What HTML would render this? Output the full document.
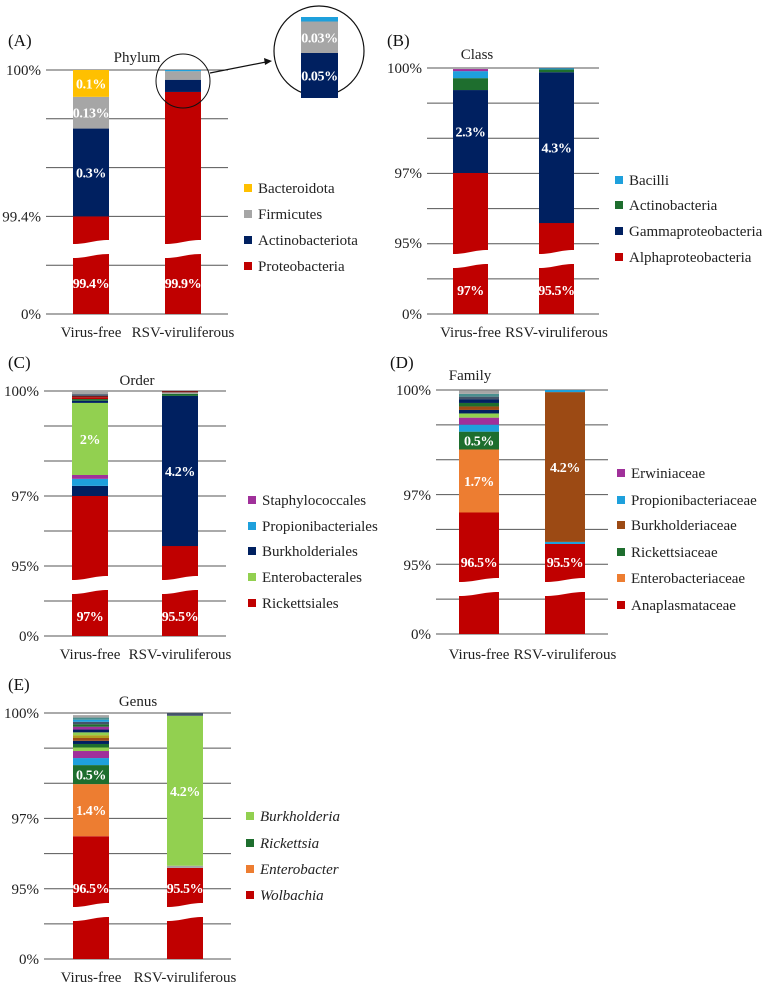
<!DOCTYPE html>
<html><head><meta charset="utf-8">
<style>
html,body{margin:0;padding:0;background:#fff;}
svg{display:block;font-family:"Liberation Serif",serif;}
</style></head>
<body>
<svg id="fig" width="766" height="989" viewBox="0 0 766 989" xmlns="http://www.w3.org/2000/svg"></svg>
<script>
const RED="#c00000",NAVY="#002060",GRAY="#a6a6a6",YEL="#ffc000",LBLUE="#1ea0dc",DGREEN="#1e6e2e",PURP="#a0309a",LGREEN="#92d050",ORANGE="#ed7d31",BROWN="#9c4a14",DRED="#7a1a1a",SLATE="#44546a",TEAL="#4a8f8f",OLIVE="#b0a020";
const categories=["Virus-free","RSV-viruliferous"];
// Panel A — Phylum
const A_vf=[99.4,0.36,0.13,0.11];
const A_vfColors=[RED,NAVY,GRAY,YEL];
const A_vfLabels=["99.4%","0.3%","0.13%","0.1%"];
const A_rsv=[99.91,0.05,0.035,0.005];
const A_rsvColors=[RED,NAVY,GRAY,LBLUE];
const A_rsvLabels=["99.9%","","",""];
const A_tickVals=[99.4,100];
const A_tickLabels=["99.4%","100%"];
const A_legend=["Bacteroidota","Firmicutes","Actinobacteriota","Proteobacteria"];
const A_legendColors=[YEL,GRAY,NAVY,RED];
const A_zoomLabels=["0.05%","0.03%",""];
// Panel B — Class
const B_vf=[97,2.37,0.34,0.2,0.06];
const B_vfColors=[RED,NAVY,DGREEN,LBLUE,PURP];
const B_vfLabels=["97%","2.3%","","",""];
const B_rsv=[95.57,4.31,0.08,0.03];
const B_rsvColors=[RED,NAVY,DGREEN,LBLUE];
const B_rsvLabels=["95.5%","4.3%","",""];
const B_tickVals=[95,97,100];
const B_tickLabels=["95%","97%","100%"];
const B_legend=["Bacilli","Actinobacteria","Gammaproteobacteria","Alphaproteobacteria"];
const B_legendColors=[LBLUE,DGREEN,NAVY,RED];
// Panel C — Order
const C_vf=[97,0.29,0.2,0.11,2.06,0.06,0.05,0.05,0.04,0.05,0.09];
const C_vfColors=[RED,NAVY,LBLUE,PURP,LGREEN,NAVY,DGREEN,RED,DRED,SLATE,GRAY];
const C_vfLabels=["97%","","","","2%","","","","","",""];
const C_rsv=[95.57,4.29,0.06,0.04,0.04];
const C_rsvColors=[RED,NAVY,DGREEN,GRAY,DRED];
const C_rsvLabels=["95.5%","4.2%","","",""];
const C_tickVals=[95,97,100];
const C_tickLabels=["95%","97%","100%"];
const C_legend=["Staphylococcales","Propionibacteriales","Burkholderiales","Enterobacterales","Rickettsiales"];
const C_legendColors=[PURP,LBLUE,NAVY,LGREEN,RED];
// Panel D — Family
const D_vf=[96.5,1.8,0.51,0.2,0.2,0.12,0.1,0.1,0.1,0.1,0.08,0.08,0.09];
const D_vfColors=[RED,ORANGE,DGREEN,LBLUE,PURP,LGREEN,NAVY,BROWN,DGREEN,NAVY,SLATE,TEAL,GRAY];
const D_vfLabels=["96.5%","1.7%","0.5%","","","","","","","","","",""];
const D_rsv=[95.6,0.06,4.28,0.06];
const D_rsvColors=[RED,LBLUE,BROWN,LBLUE];
const D_rsvLabels=["95.5%","","4.2%",""];
const D_tickVals=[95,97,100];
const D_tickLabels=["95%","97%","100%"];
const D_legend=["Erwiniaceae","Propionibacteriaceae","Burkholderiaceae","Rickettsiaceae","Enterobacteriaceae","Anaplasmataceae"];
const D_legendColors=[PURP,LBLUE,BROWN,DGREEN,ORANGE,RED];
// Panel E — Genus
const E_vf=[96.5,1.48,0.54,0.2,0.2,0.1,0.1,0.09,0.08,0.08,0.08,0.08,0.08,0.07,0.07,0.06,0.06,0.07];
const E_vfColors=[RED,ORANGE,DGREEN,LBLUE,PURP,LGREEN,DGREEN,NAVY,BROWN,OLIVE,LGREEN,NAVY,PURP,DGREEN,SLATE,LBLUE,TEAL,GRAY];
const E_vfLabels=["96.5%","1.4%","0.5%","","","","","","","","","","","","","","",""];
const E_rsv=[95.6,0.06,4.26,0.08];
const E_rsvColors=[RED,GRAY,LGREEN,SLATE];
const E_rsvLabels=["95.5%","","4.2%",""];
const E_tickVals=[95,97,100];
const E_tickLabels=["95%","97%","100%"];
const E_legend=["Burkholderia","Rickettsia","Enterobacter","Wolbachia"];
const E_legendColors=[LGREEN,DGREEN,ORANGE,RED];

const svg=document.getElementById('fig');
const NS="http://www.w3.org/2000/svg";
function mk(tag,attrs,parent){const e=document.createElementNS(NS,tag);for(const k in attrs)e.setAttribute(k,attrs[k]);(parent||svg).appendChild(e);return e;}
function txt(s,attrs,parent){const t=mk('text',attrs,parent);t.textContent=s;return t;}
const LBL={'text-anchor':'middle','font-size':14,'font-weight':'bold',fill:'#fff','letter-spacing':'-0.4'};

function drawPanel(id,cfg,bars,ticks,tickLabels,legend,legendColors){
  const g=mk('g',{});
  
  
  const y=v=>cfg.yTop+(100-v)*cfg.k;
  for(let i=0;i<=cfg.nGrid;i++){
    const gy=cfg.yTop+(cfg.zero-cfg.yTop)*i/cfg.nGrid;
    const l=mk('line',{x1:cfg.gx1,x2:cfg.gx2,y1:gy,y2:gy,stroke:"#555","stroke-width":1},g);
    
    
  }
  ticks.forEach((v,i)=>{
    const t=txt(tickLabels[i],{x:cfg.gx1-5,y:y(v)+5,'text-anchor':'end','font-size':15,fill:'#222'},g);
    
    
  });
  const z=txt("0%",{x:cfg.gx1-5,y:cfg.zero+5,'text-anchor':'end','font-size':15,fill:'#222'},g);
  
  
  bars.forEach((b,bi)=>{
    const bx=cfg.barX[bi],w=cfg.barW;
    const bg=mk('g',{},g);
    
    
    let cum=0;
    b.vals.forEach((v,si)=>{
      const lo=cum,hi=cum+v;cum=hi;
      if(si===0){
        const yt=y(hi),b1=cfg.brk1;
        const p=mk('path',{d:`M${bx},${yt} L${bx+w},${yt} L${bx+w},${b1-2} C${bx+w*0.6},${b1-2} ${bx+w*0.4},${b1+2} ${bx},${b1+2} Z`,fill:b.colors[0]},bg);
        
        
        const b2=cfg.brk2;
        const q=mk('path',{d:`M${bx},${b2+2} C${bx+w*0.4},${b2+2} ${bx+w*0.6},${b2-2} ${bx+w},${b2-2} L${bx+w},${cfg.zero} L${bx},${cfg.zero} Z`,fill:b.colors[0]},bg);
        
        
        if(b.labels[0]){
          const t=txt(b.labels[0],Object.assign({x:bx+w/2,y:cfg.baseLabelY+5},LBL),bg);
          
          
        }
      } else {
        const r=mk('rect',{x:bx,y:y(hi),width:w,height:Math.max(0.5,y(lo)-y(hi)),fill:b.colors[si]},bg);
        
        
        if(b.labels[si]){
          const t=txt(b.labels[si],Object.assign({x:bx+w/2,y:(y(lo)+y(hi))/2+5},LBL),bg);
          
          
        }
      }
    });
    const xl=txt(categories[bi],{x:bx+w/2,y:cfg.xLabelY,'text-anchor':'middle','font-size':15,fill:'#222'},g);
    
    
  });
  const tt=txt(cfg.title,{x:cfg.titleX,y:cfg.titleY,'text-anchor':'middle','font-size':15,fill:'#222'},g);
  
  
  const lt=txt(cfg.letter,{x:cfg.letterX,y:cfg.letterY,'font-size':17,fill:'#111'},g);
  
  
  legend.forEach((name,i)=>{
    const ly=cfg.legY[i];
    const lg=mk('g',{},g);
    
    
    mk('rect',{x:cfg.legX,y:ly-4,width:8,height:8,fill:legendColors[i]},lg);
    const t=txt(name,{x:cfg.legX+14,y:ly+5,'font-size':15,fill:'#222','font-style':cfg.italic?'italic':'normal'},lg);
    
    
  });
  return y;
}

drawPanel('A',{yTop:70,k:244,zero:314,brk1:242,brk2:256,nGrid:5,gx1:46,gx2:228,barX:[73,165],barW:36,baseLabelY:283,xLabelY:337,title:"Phylum",titleX:137,titleY:62,letter:"(A)",letterX:8,letterY:46,legX:244,legY:[188,214,240,266]},
  [{vals:A_vf,colors:A_vfColors,labels:A_vfLabels},{vals:A_rsv,colors:A_rsvColors,labels:A_rsvLabels}],A_tickVals,A_tickLabels,A_legend,A_legendColors);
drawPanel('B',{yTop:68,k:35,zero:314,brk1:252,brk2:266,nGrid:7,gx1:427,gx2:599,barX:[453,539],barW:35,baseLabelY:290,xLabelY:337,title:"Class",titleX:477,titleY:59,letter:"(B)",letterX:387,letterY:46,legX:615,legY:[180,205,231,257]},
  [{vals:B_vf,colors:B_vfColors,labels:B_vfLabels},{vals:B_rsv,colors:B_rsvColors,labels:B_rsvLabels}],B_tickVals,B_tickLabels,B_legend,B_legendColors);
drawPanel('C',{yTop:391,k:35,zero:636,brk1:578,brk2:592,nGrid:7,gx1:44,gx2:226,barX:[72,162],barW:36,baseLabelY:616,xLabelY:659,title:"Order",titleX:137,titleY:385,letter:"(C)",letterX:8,letterY:368,legX:248,legY:[500,526,551,577,603]},
  [{vals:C_vf,colors:C_vfColors,labels:C_vfLabels},{vals:C_rsv,colors:C_rsvColors,labels:C_rsvLabels}],C_tickVals,C_tickLabels,C_legend,C_legendColors);
drawPanel('D',{yTop:390,k:35,zero:634,brk1:580,brk2:594,nGrid:7,gx1:436,gx2:608,barX:[459,545],barW:40,baseLabelY:562,xLabelY:659,title:"Family",titleX:470,titleY:380,letter:"(D)",letterX:390,letterY:368,legX:617,legY:[473,500,525,552,578,605]},
  [{vals:D_vf,colors:D_vfColors,labels:D_vfLabels},{vals:D_rsv,colors:D_rsvColors,labels:D_rsvLabels}],D_tickVals,D_tickLabels,D_legend,D_legendColors);
drawPanel('E',{yTop:713,k:35.2,zero:959,brk1:905,brk2:919,nGrid:7,gx1:44,gx2:231,barX:[73,167],barW:36,baseLabelY:888,xLabelY:982,title:"Genus",titleX:138,titleY:706,letter:"(E)",letterX:8,letterY:690,legX:246,legY:[816,843,869,895],italic:true},
  [{vals:E_vf,colors:E_vfColors,labels:E_vfLabels},{vals:E_rsv,colors:E_rsvColors,labels:E_rsvLabels}],E_tickVals,E_tickLabels,E_legend,E_legendColors);

const mg=mk('g',{});


mk('circle',{cx:183,cy:81,r:27,fill:'none',stroke:'#111','stroke-width':1},mg);
mk('circle',{cx:319,cy:51,r:45,fill:'#fff',stroke:'#111','stroke-width':1.2},mg);
mk('line',{x1:210,y1:73,x2:266,y2:62,stroke:'#111','stroke-width':1.2},mg);
mk('path',{d:'M272,61 L264,58 L265,65 Z',fill:'#111'},mg);
(function(){
  const kz=900,base=98,bx=301,w=37;
  let cum=0;
  for(let i=1;i<A_rsv.length;i++){
    const lo=cum,hi=cum+A_rsv[i];cum=hi;
    const r=mk('rect',{x:bx,y:base-hi*kz,width:w,height:(hi-lo)*kz,fill:A_rsvColors[i]},mg);
    
    
    if(A_zoomLabels[i-1]){
      const t=txt(A_zoomLabels[i-1],Object.assign({x:bx+w/2,y:base-(lo+hi)/2*kz+5},LBL),mg);
      
      
    }
  }
})();
</script>
</body></html>
